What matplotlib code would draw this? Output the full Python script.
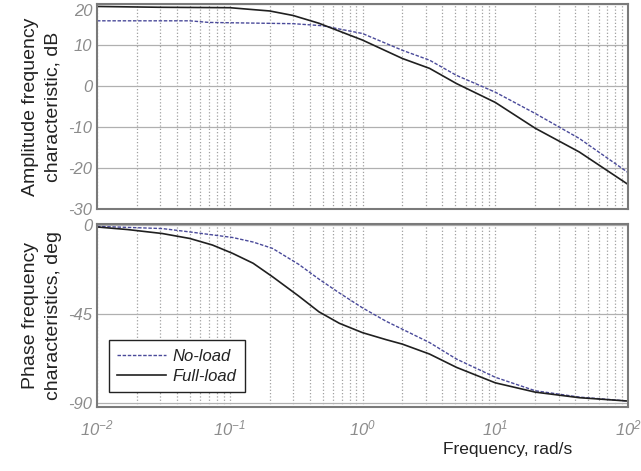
import matplotlib.pyplot as plt
from matplotlib import font_manager
import numpy as np

# pick a narrow sans if installed, the reference text looks condensed
try:
    font_manager.findfont('Liberation Sans Narrow', fallback_to_default=False)
    NARROW = 'Liberation Sans Narrow'
except ValueError:
    NARROW = 'Liberation Sans'

plt.rcParams['font.family'] = ['Liberation Sans', 'DejaVu Sans']
plt.rcParams['mathtext.fontset'] = 'custom'
plt.rcParams['mathtext.it'] = NARROW + ':italic'
plt.rcParams['mathtext.rm'] = NARROW + ':italic'

# frequencies (rad/s) and values
freq_mag_fl = [0.01, 0.03, 0.1, 0.2, 0.3, 0.47, 1.0, 2.0, 3.2, 5.1, 10, 20, 43, 100]
mag_full = [19.4, 19.2, 19.1, 18.3, 17.2, 15.3, 11.2, 6.7, 4.3, 0.6, -4.0, -10.3, -16.1, -24.0]

freq_mag_nl = [0.01, 0.05, 0.07, 0.3, 0.5, 1.0, 2.0, 3.2, 5.1, 10, 20, 43, 100]
mag_noload = [15.9, 15.9, 15.5, 15.2, 14.7, 12.8, 8.7, 6.3, 2.6, -1.5, -6.7, -12.8, -21.1]

freq_ph_fl = [0.01, 0.017, 0.031, 0.05, 0.074, 0.105, 0.15, 0.21, 0.33, 0.47, 0.67, 1.0,
              1.5, 2.0, 3.2, 5.1, 10, 20, 43, 100]
ph_full = [-1.2, -2.5, -4.5, -7.0, -10.3, -14.5, -19.5, -26.3, -36.0, -44.0, -49.8, -54.5,
           -58.0, -60.3, -65.3, -72.0, -79.8, -84.5, -87.3, -89.0]

freq_ph_nl = [0.01, 0.031, 0.05, 0.105, 0.15, 0.21, 0.33, 0.47, 0.67, 1.0, 1.5, 2.0, 3.2,
              5.1, 10, 20, 43, 100]
ph_noload = [-0.9, -2.0, -3.7, -6.5, -8.8, -12.0, -20.0, -27.5, -34.5, -42.0, -48.7, -52.8,
             -59.5, -67.8, -77.0, -83.8, -87.0, -89.0]

xticks = [0.01, 0.1, 1, 10, 100]
xtick_labels = [r'$10^{-2}$', r'$10^{-1}$', r'$10^{0}$', r'$10^{1}$', r'$10^{2}$']

fig = plt.figure(figsize=(6.41, 4.71), dpi=100)
W, H = 641, 471
ax1 = fig.add_axes([97 / W, 1 - 209 / H, 531 / W, 205 / H])
ax2 = fig.add_axes([97 / W, 1 - 407 / H, 531 / W, 183 / H])

spine_c = '#7a7a7a'
tick_c = '#8c8c8c'

for ax in (ax1, ax2):
    ax.set_xscale('log')
    ax.set_xlim(0.01, 100)
    ax.grid(True, which='major', axis='y', color='#b0b0b0', linestyle='-', linewidth=0.9)
    ax.grid(True, which='both', axis='x', color='#a0a0a0', linestyle=':', linewidth=0.9)
    for s in ax.spines.values():
        s.set_color(spine_c)
        s.set_linewidth(1.5)
    ax.tick_params(which='both', length=0, labelcolor=tick_c)

ax1.plot(freq_mag_nl, mag_noload, color='#4a4a9a', linestyle=(0, (2.5, 1.2)), linewidth=1.0)
ax1.plot(freq_mag_fl, mag_full, color='#202020', linewidth=1.2)
ax1.set_ylim(-30, 20)
ax1.set_yticks([-30, -20, -10, 0, 10, 20])
ylbls = ax1.set_yticklabels(['-30', '-20', '-10', '0', '10', '20'], fontstyle='italic',
                            family=NARROW, fontsize=12)
ylbls[-1].set_verticalalignment('top')
ax1.set_xticks(xticks)
ax1.set_xticklabels([])
ax1.set_ylabel('Amplitude frequency\ncharacteristic, dB', fontsize=14, color='#222222',
               linespacing=1.45)

ax2.plot(freq_ph_nl, ph_noload, color='#4a4a9a', linestyle=(0, (2.5, 1.2)), linewidth=1.0,
         label='No-load')
ax2.plot(freq_ph_fl, ph_full, color='#202020', linewidth=1.2, label='Full-load')
ax2.set_ylim(-92, 0.3)
ax2.set_yticks([-90, -45, 0])
ax2.set_yticklabels(['-90', '-45', '0'], fontstyle='italic', family=NARROW, fontsize=12)
ax2.set_xticks(xticks)
ax2.set_xticklabels(xtick_labels, fontsize=12)
ax2.tick_params(axis='x', pad=8)
ax2.set_ylabel('Phase frequency\ncharacteristics, deg', fontsize=14, color='#222222',
               linespacing=1.45)
ax2.set_xlabel('Frequency, rad/s', fontsize=12.5, color='#222222', family=NARROW)
ax2.xaxis.set_label_coords(0.774, -0.19)

leg = ax2.legend(loc='lower left', bbox_to_anchor=(0.0226, 0.082), borderaxespad=0,
                 fancybox=False, framealpha=1, edgecolor='#222222', fontsize=12,
                 handlelength=2.9, borderpad=0.5, labelspacing=0.3, handletextpad=0.4)
leg.get_frame().set_linewidth(1.0)
for t in leg.get_texts():
    t.set_fontstyle('italic')
    t.set_color('#222222')

ax1.yaxis.set_label_coords(-0.066, 0.5)
ax2.yaxis.set_label_coords(-0.066, 0.5)

fig.savefig('out.png', dpi=100)
